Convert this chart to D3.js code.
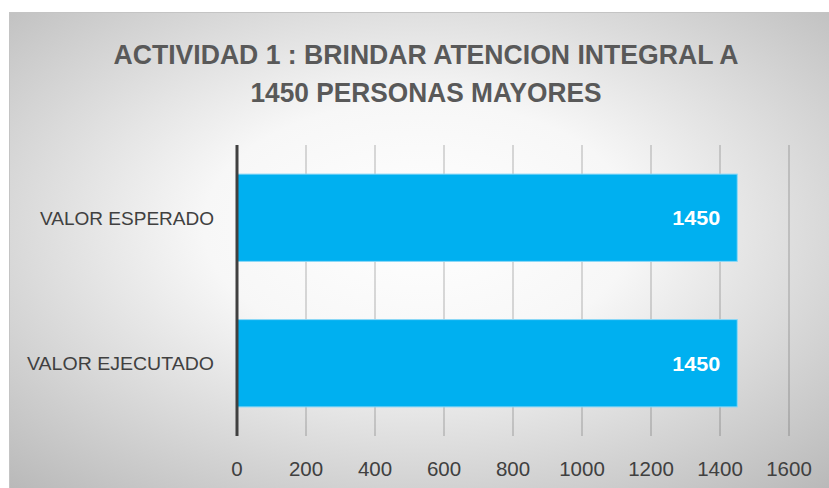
<!doctype html>
<html lang="es">
<head>
<meta charset="utf-8">
<title>Actividad 1</title>
<style>
  body { margin: 0; background: #fff; }
  svg { display: block; }
  text { font-family: "Liberation Sans", Arial, sans-serif; }
</style>
</head>
<body>
<svg id="svg" width="829" height="488"></svg>
<script src="https://cdn.jsdelivr.net/npm/d3@7"></script>
<script>
  var categories = ["VALOR ESPERADO", "VALOR EJECUTADO"];
  var values = [1450, 1450];
  var tickValues = [0, 200, 400, 600, 800, 1000, 1200, 1400, 1600];
  var titleLines = ["ACTIVIDAD 1 : BRINDAR ATENCION INTEGRAL A", "1450 PERSONAS MAYORES"];

  var svg = d3.select("#svg");

  // background gradient
  var defs = svg.append("defs");
  var grad = defs.append("radialGradient")
    .attr("id", "bg")
    .attr("cx", "50%").attr("cy", "45%").attr("r", "75%");
  grad.append("stop").attr("offset", "0%").attr("stop-color", "#ffffff");
  grad.append("stop").attr("offset", "35%").attr("stop-color", "#f7f7f7");
  grad.append("stop").attr("offset", "100%").attr("stop-color", "#b8b8b8");

  svg.append("rect")
    .attr("x", 9).attr("y", 12)
    .attr("width", 820).attr("height", 476)
    .attr("fill", "url(#bg)");
  svg.append("path")
    .attr("d", "M9.5,488V12.5H829")
    .attr("fill", "none")
    .attr("stroke", "#c4c4c4");

  // title
  svg.selectAll(".title")
    .data(titleLines)
    .enter().append("text")
    .attr("class", "title")
    .attr("x", 426)
    .attr("y", function(d, i) { return 64 + i * 38; })
    .attr("text-anchor", "middle")
    .attr("font-size", 28)
    .attr("font-weight", "bold")
    .attr("fill", "#595959")
    .attr("textLength", function(d, i) { return i == 0 ? 625 : 351; })
    .attr("lengthAdjust", "spacingAndGlyphs")
    .text(function(d) { return d; });

  var x = d3.scaleLinear().domain([0, 1600]).range([237, 789]);
  var y = d3.scaleBand().domain(categories).range([145, 436])
    .paddingInner(0.4).paddingOuter(0.2);

  // gridlines
  svg.append("g")
    .selectAll("line")
    .data(tickValues.slice(1))
    .enter().append("line")
    .attr("x1", function(d) { return x(d); })
    .attr("x2", function(d) { return x(d); })
    .attr("y1", 145).attr("y2", 436)
    .attr("stroke", "#000")
    .attr("stroke-opacity", 0.22)
    .attr("stroke-width", 1.3);

  // bars
  svg.append("g")
    .selectAll("rect")
    .data(values)
    .enter().append("rect")
    .attr("x", x(0))
    .attr("y", function(d, i) { return y(categories[i]); })
    .attr("width", function(d) { return x(d) - x(0); })
    .attr("height", y.bandwidth())
    .attr("fill", "#00b0f0")
    .attr("stroke", "#8ad8f7")
    .attr("stroke-width", 1);

  // value labels
  svg.append("g")
    .selectAll("text")
    .data(values)
    .enter().append("text")
    .attr("x", function(d) { return x(d) - 17; })
    .attr("y", function(d, i) { return y(categories[i]) + y.bandwidth() / 2 + 7.5; })
    .attr("text-anchor", "end")
    .attr("font-size", 21)
    .attr("font-weight", "bold")
    .attr("fill", "#fff")
    .attr("textLength", 48)
    .attr("lengthAdjust", "spacingAndGlyphs")
    .text(function(d) { return d; });

  // y axis line
  svg.append("line")
    .attr("x1", x(0)).attr("x2", x(0))
    .attr("y1", 145).attr("y2", 436)
    .attr("stroke", "#404040")
    .attr("stroke-width", 3);

  // category labels
  svg.append("g")
    .selectAll("text")
    .data(categories)
    .enter().append("text")
    .attr("x", 214)
    .attr("y", function(d) { return y(d) + y.bandwidth() / 2 + 7; })
    .attr("text-anchor", "end")
    .attr("font-size", 19)
    .attr("fill", "#404040")
    .attr("textLength", function(d, i) { return i == 0 ? 174 : 187; })
    .attr("lengthAdjust", "spacingAndGlyphs")
    .text(function(d) { return d; });

  // x tick labels
  svg.append("g")
    .selectAll("text")
    .data(tickValues)
    .enter().append("text")
    .attr("x", function(d) { return x(d); })
    .attr("y", 476)
    .attr("text-anchor", "middle")
    .attr("font-size", 20.5)
    .attr("fill", "#404040")
    .text(function(d) { return d; });
</script>
</body>
</html>
